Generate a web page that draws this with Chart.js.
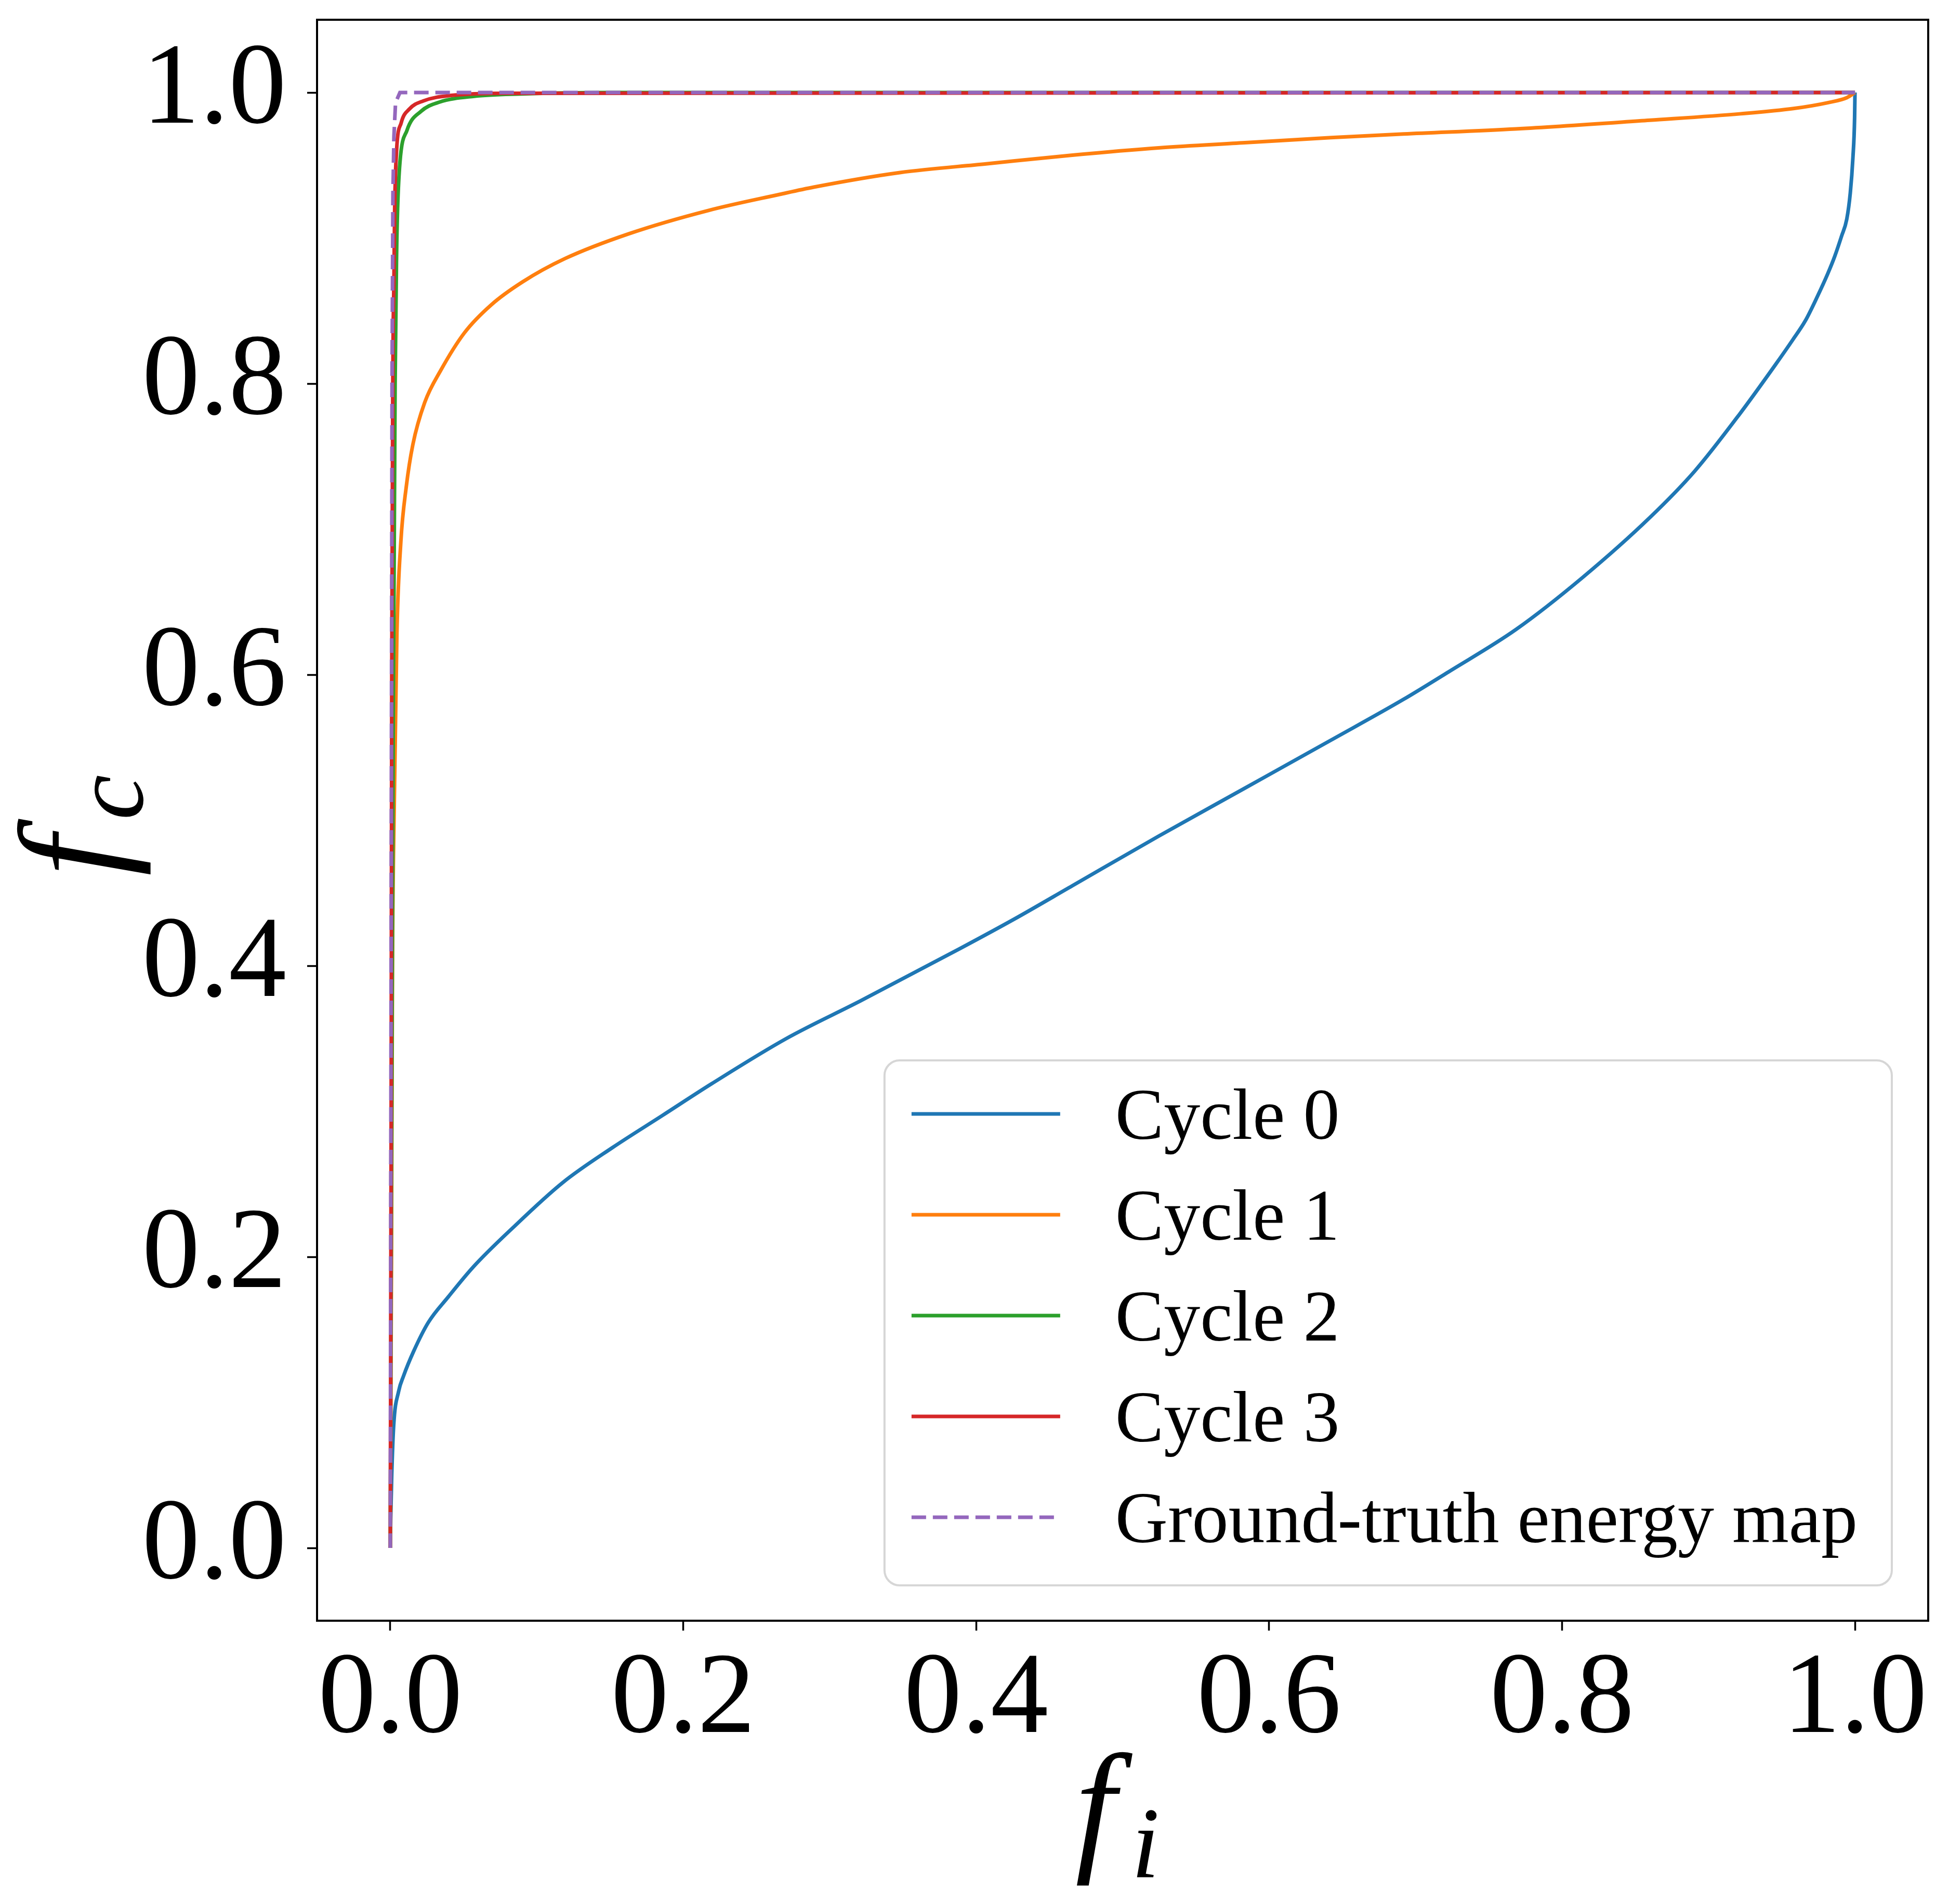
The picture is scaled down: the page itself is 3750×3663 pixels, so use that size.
<!DOCTYPE html>
<html>
<head>
<meta charset="utf-8">
<title>f_c vs f_i</title>
<script src="https://cdn.jsdelivr.net/npm/chart.js@4.4.1/dist/chart.umd.min.js"></script>
<style>
  html, body { margin: 0; padding: 0; background: #ffffff; }
  #wrap { width: 3750px; height: 3663px; }
</style>
</head>
<body>
<div id="wrap"><canvas id="curveChart" width="3750" height="3663"></canvas></div>
<script>
// tick labels on both axes
var tickValues = [0, 0.2, 0.4, 0.6, 0.8, 1.0];

// series names (legend order)
var seriesLabels = ['Cycle 0', 'Cycle 1', 'Cycle 2', 'Cycle 3', 'Ground-truth energy map'];
var seriesColors = ['#1f77b4', '#ff7f0e', '#2ca02c', '#d62728', '#9467bd'];

// values
var cycle0X = [0, 0.0003, 0.001, 0.0023, 0.0057, 0.009, 0.0159, 0.026, 0.0396, 0.0566, 0.0837, 0.1177, 0.1516, 0.1856, 0.2195, 0.2704, 0.3213, 0.3893, 0.4259, 0.4657, 0.5245, 0.5834, 0.6422, 0.6917, 0.7226, 0.7685, 0.8143, 0.860, 0.8907, 0.9212, 0.9457, 0.9578, 0.966, 0.9744, 0.9814, 0.9862, 0.9909, 0.9944, 0.9968, 0.9986, 0.99975, 1.0];
var cycle0Y = [0, 0.02, 0.05, 0.0837, 0.1076, 0.118, 0.135, 0.155, 0.1725, 0.193, 0.220, 0.251, 0.275, 0.297, 0.319, 0.350, 0.376, 0.412, 0.432, 0.455, 0.489, 0.522, 0.555, 0.583, 0.602, 0.631, 0.667, 0.708, 0.740, 0.779, 0.813, 0.8305, 0.843, 0.860, 0.8755, 0.8875, 0.9015, 0.913, 0.931, 0.9554, 0.9827, 1.0];

var cycle1X = [0, 0.0008, 0.0015, 0.0027, 0.0045, 0.0072, 0.0109, 0.0154, 0.0235, 0.0344, 0.0507, 0.0688, 0.0905, 0.1195, 0.163, 0.2173, 0.2658, 0.2891, 0.348, 0.4068, 0.4657, 0.5245, 0.5834, 0.6422, 0.6917, 0.7685, 0.860, 0.922, 0.958, 0.9814, 0.9946, 1.0];
var cycle1Y = [0, 0.2, 0.4, 0.51, 0.627, 0.691, 0.729, 0.758, 0.787, 0.809, 0.835, 0.854, 0.870, 0.886, 0.903, 0.919, 0.930, 0.935, 0.945, 0.951, 0.957, 0.962, 0.9655, 0.969, 0.9715, 0.975, 0.981, 0.9854, 0.989, 0.993, 0.9965, 1.0];

var cycle2X = [0, 0.0008, 0.002, 0.0033, 0.0043, 0.005, 0.0066, 0.0114, 0.0209, 0.0335, 0.0573, 0.089, 0.15, 1.0];
var cycle2Y = [0, 0.25, 0.56, 0.8, 0.888, 0.92, 0.952, 0.974, 0.987, 0.9934, 0.9974, 0.999, 1.0, 1.0];

var cycle3X = [0, 0.0006, 0.001, 0.0018, 0.0025, 0.003, 0.0043, 0.0074, 0.013, 0.0225, 0.0415, 0.08, 1.0];
var cycle3Y = [0, 0.3, 0.6, 0.814, 0.872, 0.92, 0.96, 0.979, 0.9886, 0.9942, 0.998, 0.9995, 1.0];

var truthX = [0, 0.0007, 0.0012, 0.0018, 0.0025, 0.0036, 0.0066, 1.0];
var truthY = [0, 0.5, 0.8, 0.93, 0.97, 0.993, 1.0, 1.0];

var seriesX = [cycle0X, cycle1X, cycle2X, cycle3X, truthX];
var seriesY = [cycle0Y, cycle1Y, cycle2Y, cycle3Y, truthY];

var serif = "'Liberation Serif', 'DejaVu Serif', serif";
var lineW = 7;
var truthDash = [28, 13];

function toPoints(xs, ys) {
    return xs.map(function (x, i) { return { x: x, y: ys[i] }; });
}

var datasets = seriesLabels.map(function (label, i) {
    return {
        label: label,
        data: toPoints(seriesX[i], seriesY[i]),
        borderColor: seriesColors[i],
        backgroundColor: seriesColors[i],
        borderWidth: lineW,
        borderDash: i === 4 ? truthDash : [],
        pointRadius: 0,
        fill: false,
        cubicInterpolationMode: i === 4 ? 'default' : 'monotone',
        tension: i === 4 ? 0 : 0.4,
        order: seriesLabels.length - i   // later series on top, like matplotlib
    };
});

// box round the axes, axis titles and the legend inside the plot
var decorPlugin = {
    id: 'decor',
    afterDatasetsDraw: function (chart) {
        var ctx = chart.ctx, a = chart.chartArea;
        ctx.save();
        ctx.strokeStyle = '#000';
        ctx.lineWidth = 4;
        ctx.strokeRect(a.left, a.top, a.right - a.left, a.bottom - a.top);
        ctx.restore();
    },
    afterDraw: function (chart) {
        var ctx = chart.ctx, a = chart.chartArea;

        // axis titles: italic f with a lowered subscript
        function mathLabel(cx, baseY, sub, rotate) {
            ctx.save();
            ctx.translate(cx, baseY);
            if (rotate) ctx.rotate(-Math.PI / 2);
            ctx.fillStyle = '#000';
            ctx.textBaseline = 'alphabetic';
            ctx.font = 'italic 280px ' + serif;
            var wf = ctx.measureText('f').width;
            ctx.font = 'italic 196px ' + serif;
            var ws = ctx.measureText(sub).width;
            var gap = 30;
            var x0 = -(wf + gap + ws) / 2;
            ctx.font = 'italic 280px ' + serif;
            ctx.fillText('f', x0, 0);
            ctx.font = 'italic 196px ' + serif;
            ctx.fillText(sub, x0 + wf + gap, 44);
            ctx.restore();
        }
        mathLabel((a.left + a.right) / 2 - 10, 3568, 'i', false);
        mathLabel(230, (a.top + a.bottom) / 2 + 10, 'c', true);

        // legend, lower right
        var fontPx = 140;
        ctx.save();
        ctx.font = fontPx + 'px ' + serif;
        var maxW = 0;
        chart.data.datasets.forEach(function (ds) {
            maxW = Math.max(maxW, ctx.measureText(ds.label).width);
        });
        var padL = 52, sampleW = 286, gapT = 106, padR = 66;
        var rowH = 194, firstRow = 103;
        var boxW = padL + sampleW + gapT + maxW + padR;
        var boxH = 1010;
        var right = a.right - 70, bottom = a.bottom - 68;
        var left = right - boxW, top = bottom - boxH;
        var r = 29;

        ctx.beginPath();
        ctx.moveTo(left + r, top);
        ctx.lineTo(right - r, top);
        ctx.arcTo(right, top, right, top + r, r);
        ctx.lineTo(right, bottom - r);
        ctx.arcTo(right, bottom, right - r, bottom, r);
        ctx.lineTo(left + r, bottom);
        ctx.arcTo(left, bottom, left, bottom - r, r);
        ctx.lineTo(left, top + r);
        ctx.arcTo(left, top, left + r, top, r);
        ctx.closePath();
        ctx.fillStyle = 'rgba(255,255,255,0.8)';
        ctx.fill();
        ctx.strokeStyle = '#d6d6d6';
        ctx.lineWidth = 4;
        ctx.stroke();

        chart.data.datasets.forEach(function (ds, i) {
            var y = top + firstRow + i * rowH;
            ctx.beginPath();
            ctx.setLineDash(ds.borderDash || []);
            ctx.strokeStyle = ds.borderColor;
            ctx.lineWidth = lineW;
            ctx.moveTo(left + padL, y);
            ctx.lineTo(left + padL + sampleW, y);
            ctx.stroke();
            ctx.setLineDash([]);
            ctx.fillStyle = '#000';
            ctx.textAlign = 'left';
            ctx.textBaseline = 'alphabetic';
            ctx.fillText(ds.label, left + padL + sampleW + gapT, y + 48);
        });
        ctx.restore();
    }
};

var tickFont = { family: serif, size: 222 };

var ctx = document.getElementById('curveChart').getContext('2d');
var curveChart = new Chart(ctx, {
    type: 'line',
    data: { datasets: datasets },
    options: {
        responsive: false,
        devicePixelRatio: 1,
        animation: false,
        layout: { padding: { top: 38, right: 40, left: 0, bottom: 0 } },
        plugins: {
            legend: { display: false },
            tooltip: { enabled: false }
        },
        scales: {
            x: {
                type: 'linear',
                min: -0.05,
                max: 1.05,
                afterBuildTicks: function (axis) {
                    axis.ticks = tickValues.map(function (v) { return { value: v }; });
                },
                afterFit: function (axis) {
                    axis.height = 545;
                    axis.paddingLeft = 0;
                    axis.paddingRight = 0;
                },
                ticks: {
                    autoSkip: false,
                    maxRotation: 0,
                    padding: 4,
                    color: '#000',
                    font: tickFont,
                    callback: function (v) { return Number(v).toFixed(1); }
                },
                grid: { drawOnChartArea: false, drawTicks: true, tickLength: 19, tickWidth: 3.5, tickColor: '#000' },
                border: { display: true, color: '#000', width: 4 }
            },
            y: {
                type: 'linear',
                min: -0.05,
                max: 1.05,
                afterBuildTicks: function (axis) {
                    axis.ticks = tickValues.map(function (v) { return { value: v }; });
                },
                afterFit: function (axis) {
                    axis.width = 610;
                    axis.paddingTop = 0;
                    axis.paddingBottom = 0;
                },
                ticks: {
                    autoSkip: false,
                    padding: 40,
                    color: '#000',
                    font: tickFont,
                    callback: function (v) { return Number(v).toFixed(1); }
                },
                grid: { drawOnChartArea: false, drawTicks: true, tickLength: 19, tickWidth: 3.5, tickColor: '#000' },
                border: { display: true, color: '#000', width: 4 }
            }
        }
    },
    plugins: [decorPlugin]
});
</script>
</body>
</html>
